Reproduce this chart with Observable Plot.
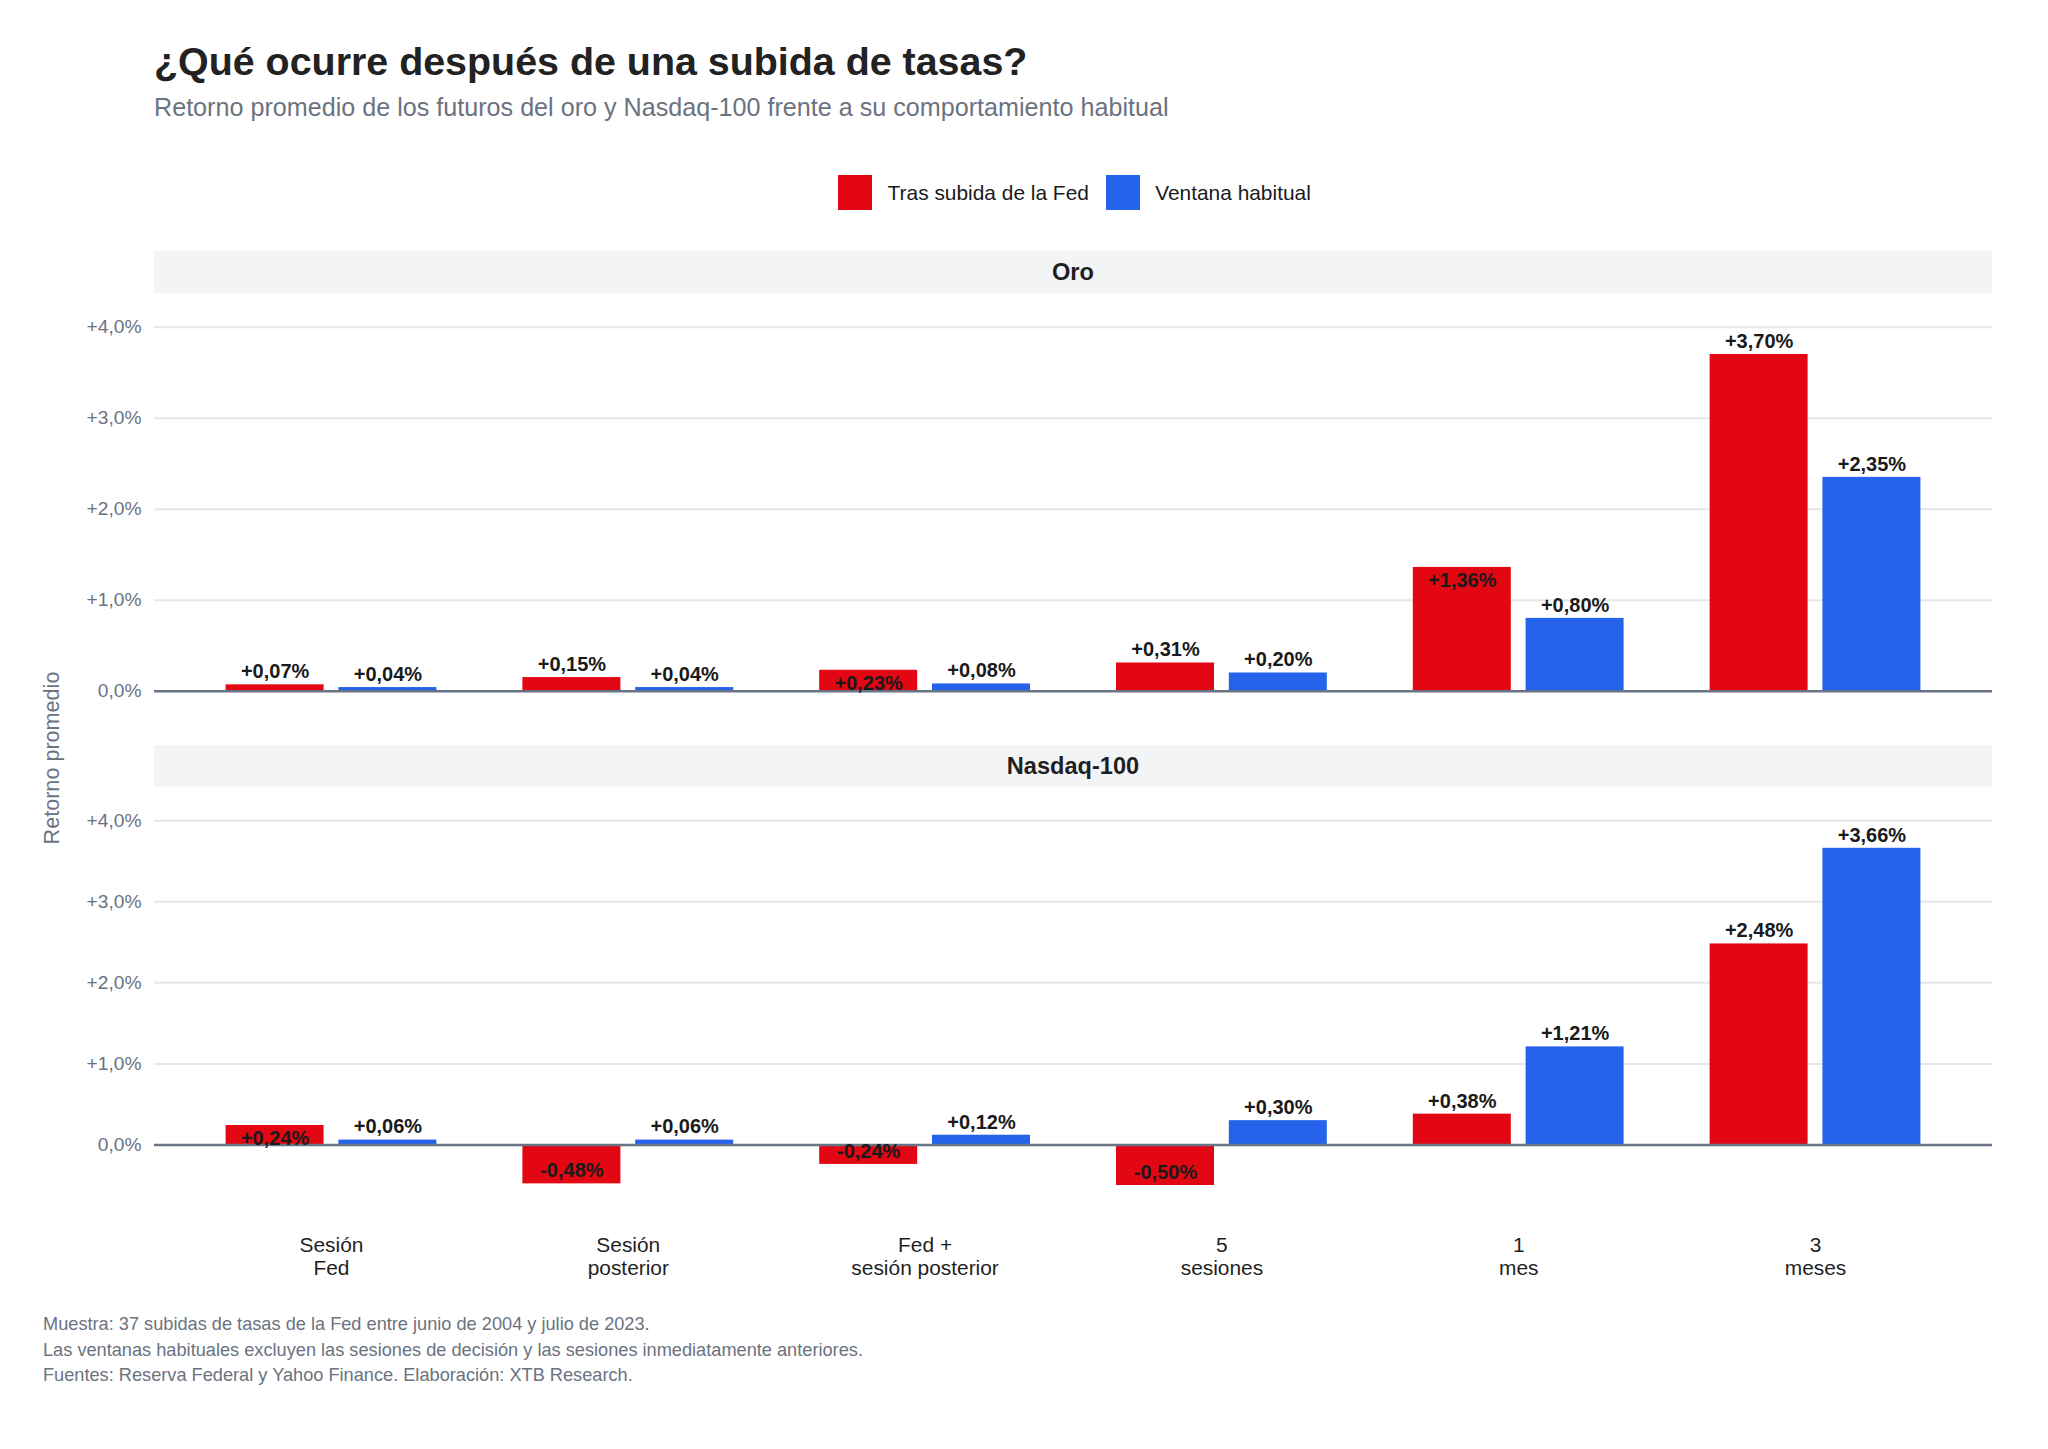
<!DOCTYPE html>
<html>
<head>
<meta charset="utf-8">
<script src="https://cdn.jsdelivr.net/npm/d3@7"></script>
<script src="https://cdn.jsdelivr.net/npm/@observablehq/plot@0.6"></script>
<style>
  html, body { margin: 0; padding: 0; background: #ffffff; }
  body { font-family: "Liberation Sans", Arial, Helvetica, sans-serif; }
  #page { position: relative; width: 2048px; height: 1449px; overflow: hidden; background: #fff; }
  .abs { position: absolute; white-space: nowrap; }
  #title { left: 154px; top: 41.5px; font-size: 39.4px; line-height: 39.4px; font-weight: 700; color: #222222; }
  #subtitle { left: 154px; top: 95px; font-size: 25.15px; line-height: 25.15px; color: #6b7280; }
  #legend { left: 838px; top: 175px; height: 35px; display: flex; align-items: center; }
  .sw { width: 34px; height: 35px; margin-right: 15.6px; }
  .lt { font-size: 20.9px; color: #1a1a1a; margin-right: 16.7px; }
  .strip { left: 154px; width: 1838px; height: 42px; background: #f3f4f6; text-align: center;
           font-size: 23.6px; line-height: 42px; font-weight: 700; color: #1f1f1f; }
  #ytitle { left: 52px; top: 758.3px; transform: translate(-50%, -50%) rotate(-90deg);
            font-size: 21.6px; color: #6b7280; }
  #footer { left: 43px; top: 1312px; font-size: 18.2px; line-height: 25.5px; color: #6b7280; }
</style>
</head>
<body>
<div id="page">
  <div id="title" class="abs"></div>
  <div id="subtitle" class="abs"></div>
  <div id="legend" class="abs"></div>
  <div id="strip1" class="abs strip" style="top:251px"></div>
  <div id="strip2" class="abs strip" style="top:745px"></div>
  <div id="plot1" class="abs" style="left:0;top:293px"></div>
  <div id="plot2" class="abs" style="left:0;top:787px"></div>
  <div id="ytitle" class="abs"></div>
  <div id="footer" class="abs"></div>
</div>
<script>
// ---------- Data ----------
const titleText = "¿Qué ocurre después de una subida de tasas?";
const subtitleText = "Retorno promedio de los futuros del oro y Nasdaq-100 frente a su comportamiento habitual";
const yTitleText = "Retorno promedio";
const footerLines = [
  "Muestra: 37 subidas de tasas de la Fed entre junio de 2004 y julio de 2023.",
  "Las ventanas habituales excluyen las sesiones de decisión y las sesiones inmediatamente anteriores.",
  "Fuentes: Reserva Federal y Yahoo Finance. Elaboración: XTB Research."
];
const panels = ["Oro", "Nasdaq-100"];
const categories = ["Sesión\nFed", "Sesión\nposterior", "Fed +\nsesión posterior", "5\nsesiones", "1\nmes", "3\nmeses"];
const series = ["Tras subida de la Fed", "Ventana habitual"];
const seriesColors = ["#e30613", "#2563eb"];

const oroTras      = [0.07, 0.15, 0.23, 0.31, 1.36, 3.70];
const oroVentana   = [0.04, 0.04, 0.08, 0.20, 0.80, 2.35];
const nasdaqTras   = [0.24, -0.48, -0.24, -0.50, 0.38, 2.48];
const nasdaqVentana= [0.06, 0.06, 0.12, 0.30, 1.21, 3.66];
// whether the "Tras subida" value label sits inside its bar
const oroTrasInside    = [false, false, true, false, true, false];
const nasdaqTrasInside = [true, true, true, true, false, false];

const yTicks = [0, 1, 2, 3, 4];

// ---------- Text ----------
document.getElementById("title").textContent = titleText;
document.getElementById("subtitle").textContent = subtitleText;
document.getElementById("ytitle").textContent = yTitleText;
document.getElementById("strip1").textContent = panels[0];
document.getElementById("strip2").textContent = panels[1];
document.getElementById("footer").innerHTML = footerLines.map(s => `<div>${s}</div>`).join("");
const legend = document.getElementById("legend");
series.forEach((s, i) => {
  const sw = document.createElement("div"); sw.className = "sw"; sw.style.background = seriesColors[i];
  const lt = document.createElement("div"); lt.className = "lt"; lt.textContent = s;
  legend.appendChild(sw); legend.appendChild(lt);
});

// ---------- Chart ----------
const fmtVal = v => (v > 0 ? "+" : "") + v.toFixed(2).replace(".", ",") + "%";
const fmtTick = v => (v > 0 ? "+" : "") + v.toFixed(1).replace(".", ",") + "%";
const INSET = 112.8, DX = 56.4, DY = 13;

function panel(tras, ventana, inside, yDomain, showX) {
  const rows = categories.map((c, i) => ({cat: c, tras: tras[i], ventana: ventana[i], inside: inside[i]}));
  const textOpts = {fontSize: 20, fontWeight: "bold", fill: "#1a1a1a"};
  const marks = [
    Plot.gridY({ticks: yTicks.filter(t => t !== 0), stroke: "#e5e7eb", strokeOpacity: 1, strokeWidth: 2}),
    Plot.axisY({ticks: yTicks, tickFormat: fmtTick, tickSize: 0, tickPadding: 13, fontSize: 19.2, label: null}),
    Plot.barY(rows, {x: "cat", y: "tras", fill: seriesColors[0], insetRight: INSET}),
    Plot.barY(rows, {x: "cat", y: "ventana", fill: seriesColors[1], insetLeft: INSET}),
    Plot.ruleY([0], {stroke: "#687385", strokeWidth: 2.5}),
    Plot.text(rows.filter(d => (d.tras >= 0) !== d.inside), {x: "cat", y: "tras", text: d => fmtVal(d.tras), dx: -DX, dy: -DY, ...textOpts}),
    Plot.text(rows.filter(d => (d.tras >= 0) === d.inside), {x: "cat", y: "tras", text: d => fmtVal(d.tras), dx: -DX, dy: DY, ...textOpts}),
    Plot.text(rows, {x: "cat", y: "ventana", text: d => fmtVal(d.ventana), dx: DX, dy: -DY, ...textOpts})
  ];
  if (showX) marks.push(Plot.axisX({tickSize: 0, tickPadding: 34, fontSize: 20.9, lineHeight: 1.07, fill: "#1f1f1f", label: null}));
  return Plot.plot({
    width: 2048,
    height: 415 + (showX ? 100 : 0),
    marginLeft: 154,
    marginRight: 56,
    marginTop: 0,
    marginBottom: showX ? 100 : 0,
    style: {fontFamily: "'Liberation Sans', Arial, sans-serif", color: "#6b7280", background: "transparent", overflow: "visible"},
    x: {type: "band", domain: categories, paddingInner: 0.2898, paddingOuter: 0.2412, round: false, axis: showX ? undefined : null},
    y: {domain: yDomain},
    marks
  });
}

document.getElementById("plot1").appendChild(panel(oroTras, oroVentana, oroTrasInside, [-0.19, 4.37], false));
document.getElementById("plot2").appendChild(panel(nasdaqTras, nasdaqVentana, nasdaqTrasInside, [-0.71, 4.41], true));
</script>
</body>
</html>
